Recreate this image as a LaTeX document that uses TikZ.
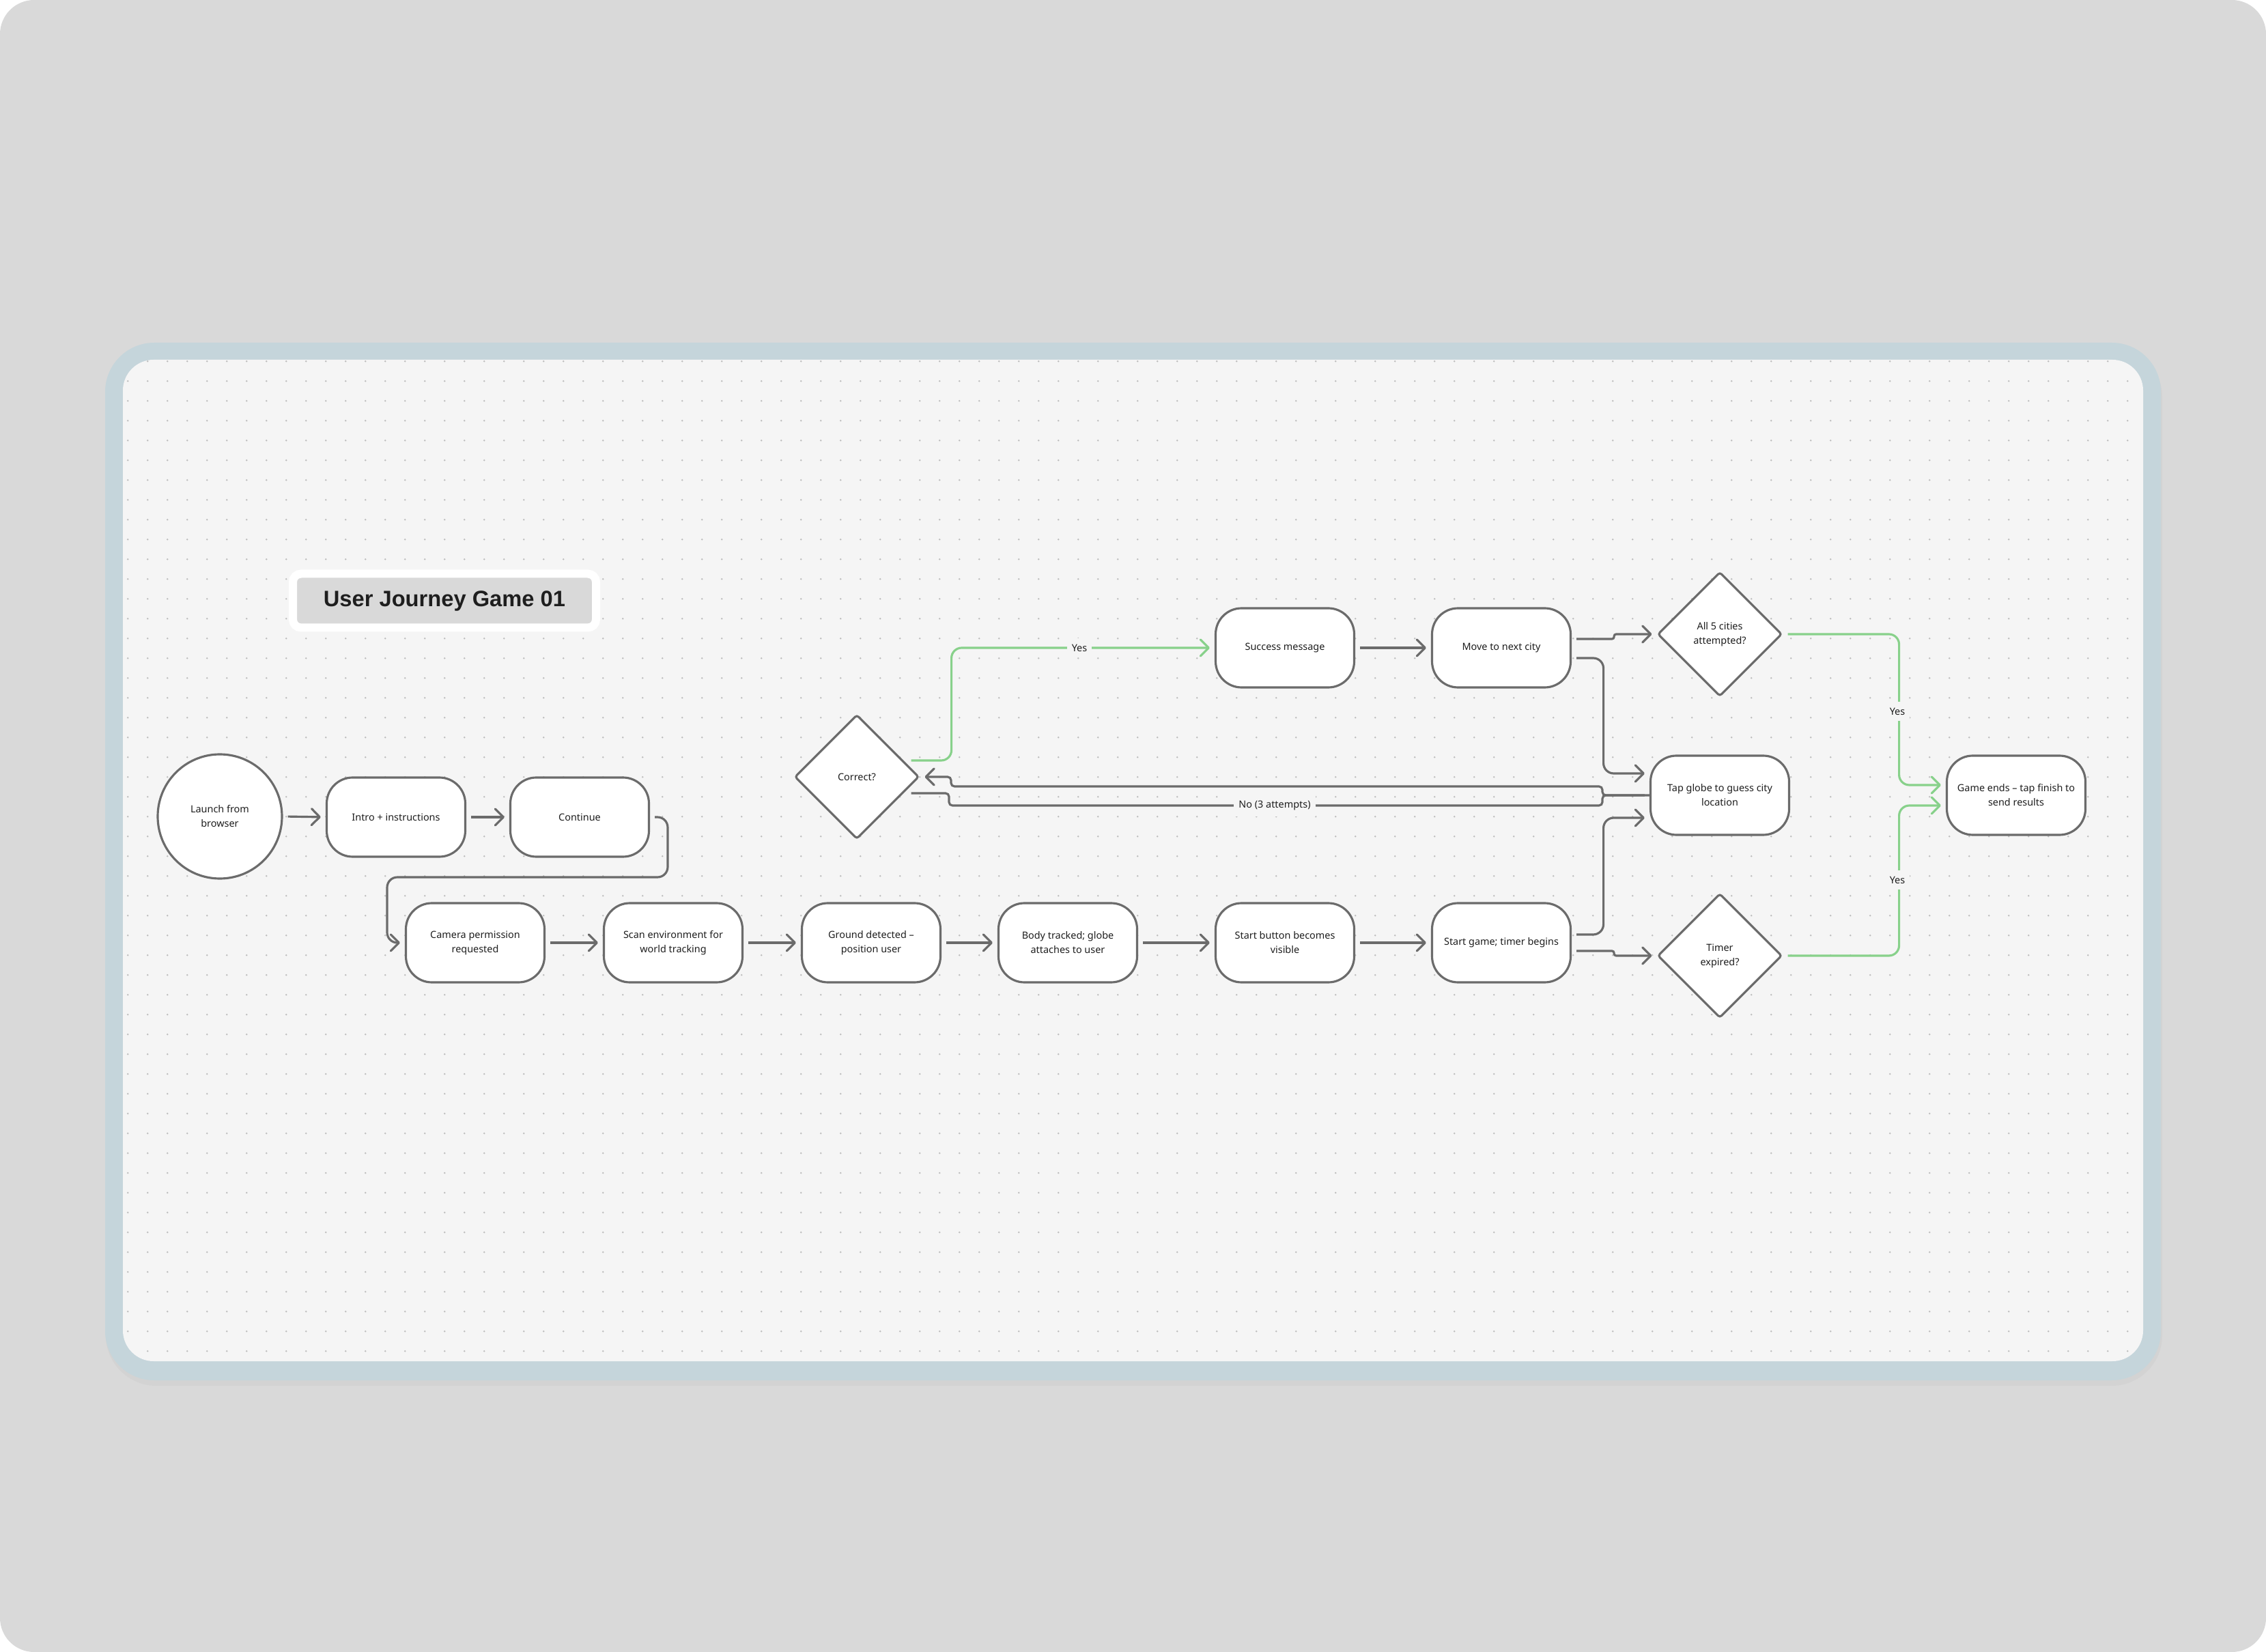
\documentclass[tikz,border=0pt]{standalone}
\usepackage{fontspec}
\setmainfont{Noto Sans}
\newfontfamily\titlefont{Liberation Sans}
\usepackage{xcolor}
\usetikzlibrary{shapes.geometric, arrows.meta}
\definecolor{page-bg}{HTML}{D9D9D9}
\definecolor{shadow-grey}{HTML}{D3D3D3}
\definecolor{frame-blue}{HTML}{C5D5DB}
\definecolor{board-bg}{HTML}{F5F5F5}
\definecolor{grid-dot}{HTML}{BDBDBD}
\definecolor{title-grey}{HTML}{D9D9D9}
\definecolor{step-line}{HTML}{6B6B6B}
\definecolor{yes-green}{HTML}{88D18B}
\definecolor{ink}{HTML}{1E1E1E}

\tikzset{
  stepbox/.style={draw=step-line, fill=white, line width=0.9pt, rounded corners=0.38cm,
    minimum width=2.03cm, minimum height=1.16cm, inner sep=0pt, align=center,
    font=\fontsize{4.1}{6}\selectfont, text=ink},
  startcircle/.style={circle, draw=step-line, fill=white, line width=0.9pt,
    minimum size=1.82cm, inner sep=0pt, align=center,
    font=\fontsize{4.1}{6}\selectfont, text=ink},
  decision/.style={diamond, draw=step-line, fill=white, line width=0.9pt,
    minimum width=1.82cm, minimum height=1.82cm, inner sep=0pt, align=center,
    rounded corners=1pt, font=\fontsize{4.1}{6}\selectfont, text=ink},
  titlebox/.style={fill=title-grey, draw=white, line width=0.12cm, rounded corners=0.12cm,
    minimum width=4.44cm, minimum height=0.79cm, inner sep=0pt,
    font=\titlefont\bfseries\fontsize{9.3}{11}\selectfont, text=ink},
  flowline/.style={draw=step-line, line width=0.9pt, rounded corners=0.15cm,
    shorten <=2pt},
  flow/.style={flowline, shorten >=2pt,
    -{Straight Barb[length=0.12cm, width=0.24cm, round]}},
  yesflow/.style={flow, draw=yes-green},
  edgelabel/.style={fill=board-bg, inner xsep=0.07cm, inner ysep=0.09cm,
    font=\fontsize{4.1}{6}\selectfont, text=ink},
}

\begin{document}
\begin{tikzpicture}
  % Board: 33.19 x 24.20 cm page, 1 cm = 100 px of the mock-up
  %   frame (1.54,-5.02) to (31.65,-20.22), panel (1.80,-5.27) to (31.39,-19.94)
  %   step rows at y=-9.49 (top), -11.65 (middle), -13.81 (bottom)
  \useasboundingbox (0,0) rectangle (33.19,-24.20);
  \fill[white] (0,0) rectangle (33.19,-24.20);
  \fill[page-bg, rounded corners=0.5cm] (0,0) rectangle (33.19,-24.20);
  \fill[shadow-grey, rounded corners=0.74cm] (1.55,-5.08) rectangle (31.67,-20.30);
  \fill[frame-blue, rounded corners=0.72cm] (1.54,-5.02) rectangle (31.65,-20.22);
  \fill[board-bg, rounded corners=0.45cm] (1.80,-5.27) rectangle (31.39,-19.94);
  % dot grid, 0.29 cm pitch, one row per path
  \begin{scope}
    \clip[rounded corners=0.45cm] (1.80,-5.27) rectangle (31.39,-19.94);
    \foreach \j in {0,...,50}
      \fill[grid-dot] foreach \i in {0,...,101}
        { ({1.873+0.29*\i},{-5.293-0.29*\j}) circle (0.014) };
  \end{scope}

  \node[titlebox] (title) at (6.51,-8.80) {User Journey Game 01};

  % steps
  \node[startcircle] (launch) at (3.22,-11.96) {Launch from\\browser};
  \node[stepbox] (intro) at (5.80,-11.97) {Intro + instructions};
  \node[stepbox] (cont) at (8.49,-11.97) {Continue};
  \node[stepbox] (cam) at (6.96,-13.81) {Camera permission\\requested};
  \node[stepbox] (scan) at (9.86,-13.81) {Scan environment for\\world tracking};
  \node[stepbox] (ground) at (12.76,-13.81) {Ground detected –\\position user};
  \node[stepbox] (body) at (15.64,-13.81) {Body tracked; globe\\attaches to user};
  \node[stepbox] (startbtn) at (18.82,-13.81) {Start button becomes\\visible};
  \node[stepbox] (startgame) at (21.99,-13.81) {Start game; timer begins};
  \node[decision] (timer) at (25.19,-14.00) {Timer\\expired?};
  \node[stepbox] (tap) at (25.19,-11.65) {Tap globe to guess city\\location};
  \node[decision] (correct) at (12.55,-11.38) {Correct?};
  \node[stepbox] (success) at (18.82,-9.49) {Success message};
  \node[stepbox] (move) at (21.99,-9.49) {Move to next city};
  \node[decision] (all5) at (25.19,-9.29) {All 5 cities\\attempted?};
  \node[stepbox] (gameend) at (29.53,-11.65) {Game ends – tap finish to\\send results};

  % connectors
  \draw[flow] (launch.east) -- (intro.west);
  \draw[flow] (intro.east) -- (cont.west);
  \draw[flow] (cont.east) -- (9.78,-11.97) |- (5.67,-12.85) |- (cam.west);
  \draw[flow] (cam.east) -- (scan.west);
  \draw[flow] (scan.east) -- (ground.west);
  \draw[flow] (ground.east) -- (body.west);
  \draw[flow] (body.east) -- (startbtn.west);
  \draw[flow] (startbtn.east) -- (startgame.west);
  \draw[flow, rounded corners=0.03cm] ([yshift=-0.12cm]startgame.east) -- ++(0.62,0) |- (timer.west);
  \draw[flow] ([yshift=0.12cm]startgame.east) -- ++(0.465,0) |- ([yshift=-0.33cm]tap.west);
  \draw[flow] ([yshift=-0.15cm]move.east) -- ++(0.465,0) |- ([yshift=0.32cm]tap.west);
  \draw[flow, rounded corners=0.03cm] ([yshift=0.13cm]move.east) -- ++(0.62,0) |- (all5.west);
  \draw[flow] (success.east) -- (move.west);
  \draw[flow, rounded corners=0.05cm] (tap.west) -- (23.47,-11.65) |- (13.93,-11.52) |- (correct.east);
  \draw[flowline, rounded corners=0.05cm] ([xshift=-0.2cm, yshift=-0.24cm]correct.east)
    -- (13.90,-11.62) |- (23.47,-11.80) |- (tap.west);
  \draw[yesflow] ([xshift=-0.2cm, yshift=0.24cm]correct.east) -- ++(0.66,0) |- (success.west);
  \draw[yesflow] (all5.east) -- ++(1.70,0) |- ([yshift=0.15cm]gameend.west);
  \draw[yesflow] (timer.east) -- ++(1.70,0) |- ([yshift=-0.15cm]gameend.west);

  % connector labels
  \node[edgelabel] (yescorrect) at (15.81,-9.49) {Yes};
  \node[edgelabel] (noattempts) at (18.67,-11.80) {No (3 attempts)};
  \node[edgelabel] (yesall) at (27.79,-10.42) {Yes};
  \node[edgelabel] (yestimer) at (27.79,-12.89) {Yes};
\end{tikzpicture}
\end{document}
